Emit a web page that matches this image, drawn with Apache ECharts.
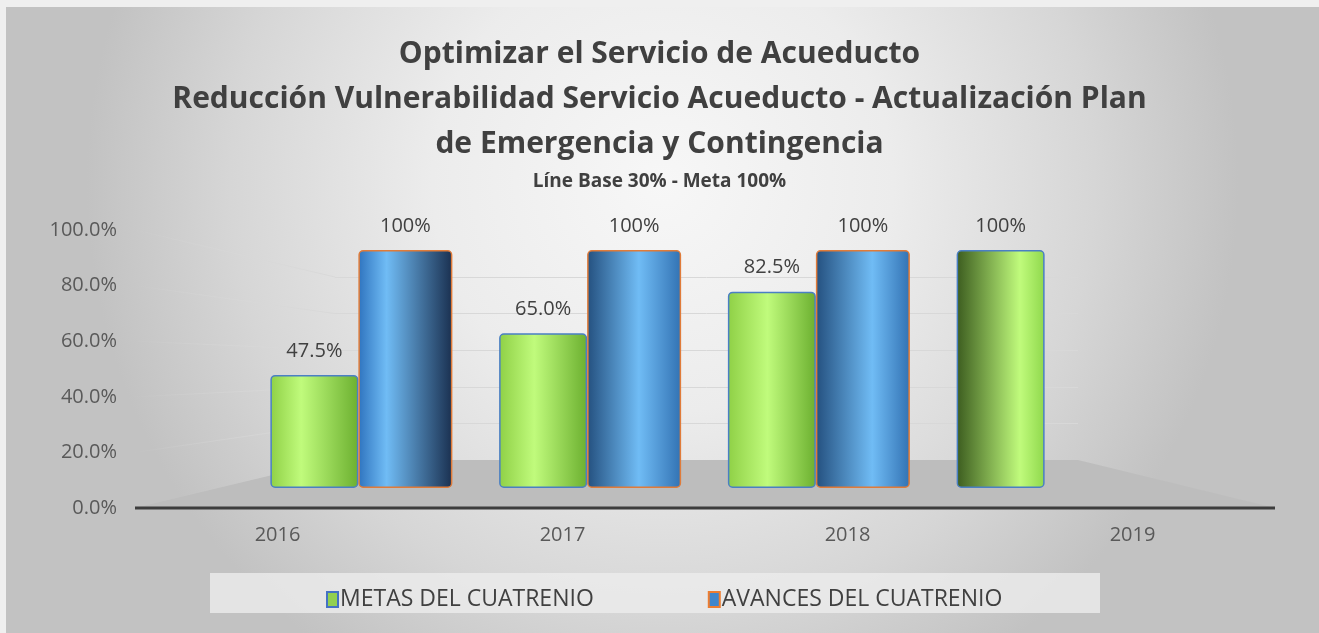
<!DOCTYPE html>
<html>
<head>
    <meta charset="utf-8">
    <title>Optimizar el Servicio de Acueducto</title>
    <script src="https://cdn.jsdelivr.net/npm/echarts@6/dist/echarts.min.js"></script>
    <style>
        html, body { margin: 0; padding: 0; background: #efefef; }
        #chart { width: 1319px; height: 633px; }
    </style>
</head>
<body>
<div id="chart"></div>
<script>
    // datos
    var years = ['2016', '2017', '2018', '2019'];
    var metas = [47.5, 65.0, 82.5, 100];
    var avances = [100, 100, 100, '-'];
    var yMin = 0, yMax = 100, yStep = 20;

    var tituloTxt = 'Optimizar el Servicio de Acueducto\nReducción Vulnerabilidad Servicio Acueducto - Actualización Plan\nde Emergencia y Contingencia';
    var subTxt = 'Líne Base 30% - Meta 100%';
    var nomMetas = 'METAS DEL CUATRENIO';
    var nomAvances = 'AVANCES DEL CUATRENIO';

    // posicion del brillo en cada cilindro (solo estilo)
    var brilloVerde = [0.35, 0.4, 0.45, 0.72];
    var brilloAzul = [0.3, 0.55, 0.6];

    var W = 1319, H = 633;
    var ejeIzq = 135, ejeDer = 1275, ejeTop = 230, ejeBase = 508;   // grid del eje
    var muroIzq = 335, muroDer = 1078, muroTop = 277, muroBase = 460; // pared del fondo
    var barIzq = 247, barDer = 1162, barTop = 250, barBase = 488;   // grid de cilindros

    var fuente = '"Open Sans", "Liberation Sans", sans-serif';

    function cilindro(c1, c2, c3, p) {
        return new echarts.graphic.LinearGradient(0, 0, 1, 0, [
            {offset: 0, color: c1},
            {offset: p, color: c2},
            {offset: 1, color: c3}
        ]);
    }

    var datosMetas = metas.map(function (v, i) {
        var p = brilloVerde[i];
        var izq = p > 0.6 ? '#3c5c1f' : '#8fd046';
        var der = p > 0.6 ? '#8fd84c' : '#6cb030';
        return {value: v, itemStyle: {color: cilindro(izq, '#c0fb7c', der, p)}};
    });
    var datosAvances = avances.map(function (v, i) {
        var p = brilloAzul[i] || 0.5;
        var izq = p < 0.4 ? '#2f74bf' : '#24507f';
        var der = p < 0.4 ? '#1a3050' : '#3272b3';
        return {value: v, itemStyle: {color: cilindro(izq, '#70bcf5', der, p)}};
    });

    function etiqueta(p) {
        var v = p.value;
        return v == 100 ? '100%' : v.toFixed(1) + '%';
    }

    var myChart = echarts.init(document.getElementById('chart'));

    var option = {
        animation: false,
        title: [
            {
                text: tituloTxt,
                left: 'center',
                top: 27,
                textStyle: {fontFamily: fuente, fontSize: 30, fontWeight: 'bold', color: '#404040', lineHeight: 45}
            },
            {
                text: subTxt,
                left: 'center',
                top: 167,
                textStyle: {fontFamily: fuente, fontSize: 19, fontWeight: 'bold', color: '#404040'}
            }
        ],
        legend: {
            left: 321,
            top: 583,
            itemWidth: 11,
            itemHeight: 15,
            itemGap: 114,
            icon: 'rect',
            textStyle: {fontFamily: fuente, fontSize: 23, color: '#404040', padding: [0, 0, 0, -3]},
            data: [
                {name: nomMetas, itemStyle: {color: '#92d050', borderColor: '#4472c4', borderWidth: 2}},
                {name: nomAvances, itemStyle: {color: '#3f86cc', borderColor: '#ed7d31', borderWidth: 2}}
            ]
        },
        grid: [
            {left: ejeIzq, right: W - ejeDer, top: ejeTop, bottom: H - ejeBase},
            {left: barIzq, right: W - barDer, top: barTop, bottom: H - barBase},
            {left: muroIzq, right: W - muroDer, top: muroTop, bottom: H - muroBase}
        ],
        xAxis: [
            {
                type: 'category', gridIndex: 0, data: years,
                axisLine: {show: false},
                axisTick: {show: false},
                axisLabel: {fontFamily: fuente, fontSize: 20, color: '#595959', margin: 17}
            },
            {type: 'category', gridIndex: 1, data: years, show: false},
            {type: 'category', gridIndex: 2, data: years, show: false}
        ],
        yAxis: [
            {
                type: 'value', gridIndex: 0, min: yMin, max: yMax, interval: yStep,
                axisLine: {show: false}, axisTick: {show: false}, splitLine: {show: false},
                axisLabel: {
                    fontFamily: fuente, fontSize: 20, color: '#595959', margin: 18,
                    formatter: function (v) { return v.toFixed(1) + '%'; }
                }
            },
            {type: 'value', gridIndex: 1, min: yMin, max: yMax, show: false},
            {
                type: 'value', gridIndex: 2, min: yMin, max: yMax, interval: yStep,
                axisLine: {show: false}, axisTick: {show: false}, axisLabel: {show: false},
                splitLine: {show: true, lineStyle: {color: '#d8d8d8', width: 1}}
            }
        ],
        series: [
            {
                name: nomMetas, type: 'bar', xAxisIndex: 1, yAxisIndex: 1,
                data: datosMetas, barWidth: 88, barGap: '0%', z: 3,
                itemStyle: {borderColor: '#4a7fc4', borderWidth: 1.5, borderRadius: 4},
                label: {show: true, position: 'top', distance: 14, fontFamily: fuente, fontSize: 20, color: '#404040', formatter: etiqueta}
            },
            {
                name: nomAvances, type: 'bar', xAxisIndex: 1, yAxisIndex: 1,
                data: datosAvances, barWidth: 94, z: 3,
                itemStyle: {borderColor: '#e07b39', borderWidth: 1.5, borderRadius: 4},
                label: {show: true, position: 'top', distance: 14, fontFamily: fuente, fontSize: 20, color: '#404040', formatter: etiqueta}
            }
        ]
    };
    myChart.setOption(option);

    // decoracion: fondo, piso 3D, lineas laterales
    function yEje(v) { return myChart.convertToPixel({yAxisIndex: 0}, v); }
    function yMuro(v) { return myChart.convertToPixel({yAxisIndex: 2}, v); }

    var deco = [
        {
            type: 'rect', z: -10, silent: true,
            shape: {x: 6, y: 7, width: W - 6, height: H - 7},
            style: {
                fill: new echarts.graphic.RadialGradient(0.5, 0.28, 0.92, [
                    {offset: 0, color: '#f7f7f7'},
                    {offset: 0.4, color: '#ececec'},
                    {offset: 0.75, color: '#d6d6d6'},
                    {offset: 1, color: '#c2c2c2'}
                ])
            }
        },
        {
            type: 'rect', z: -5, silent: true,
            shape: {x: 210, y: 573, width: 890, height: 40},
            style: {fill: 'rgba(236,236,236,0.8)'}
        },
        {
            type: 'polygon', z: 1, silent: true,
            shape: {points: [[ejeIzq, yEje(0)], [muroIzq, yMuro(0)], [muroDer, yMuro(0)], [ejeDer, yEje(0)]]},
            style: {fill: '#bdbdbd'}
        },
        {
            type: 'line', z: 2, silent: true,
            shape: {x1: ejeIzq, y1: yEje(0), x2: ejeDer, y2: yEje(0)},
            style: {stroke: '#3d3d3d', lineWidth: 3}
        }
    ];
    for (var v = yMin + yStep; v <= yMax; v += yStep) {
        deco.push({
            type: 'line', z: 0, silent: true,
            shape: {x1: ejeIzq, y1: yEje(v), x2: muroIzq, y2: yMuro(v)},
            style: {
                stroke: new echarts.graphic.LinearGradient(0, 0, 1, 0, [
                    {offset: 0, color: 'rgba(216,216,216,0)'},
                    {offset: 1, color: '#d8d8d8'}
                ]),
                lineWidth: 1
            }
        });
    }
    myChart.setOption({graphic: deco});
</script>
</body>
</html>
